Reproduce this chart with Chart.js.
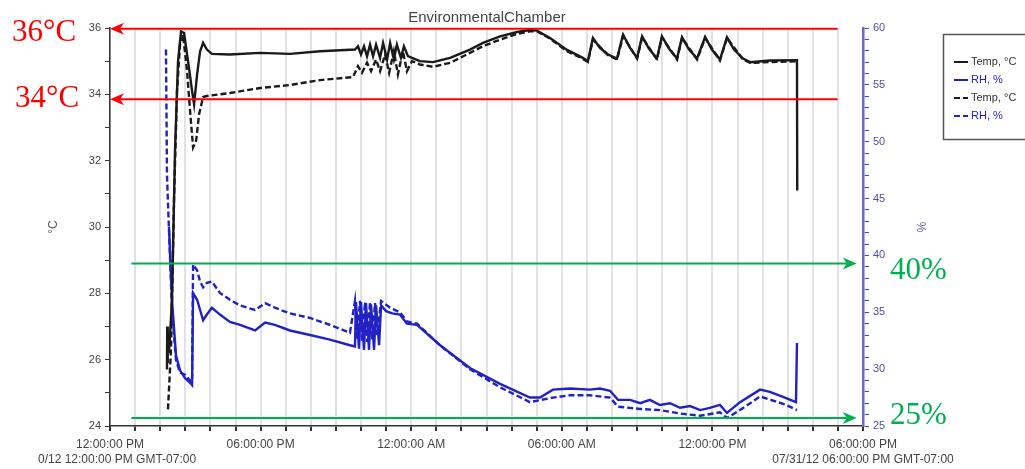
<!DOCTYPE html>
<html>
<head>
<meta charset="utf-8">
<script src="https://cdn.jsdelivr.net/npm/chart.js@4.4.1/dist/chart.umd.min.js"></script>
<style>
  html, body { margin: 0; padding: 0; background: #fff; }
</style>
</head>
<body>
<canvas id="chamberChart" width="1025" height="469"></canvas>
<script>
// x values are hours after 12:00:00 PM on the first day
const tempSolidHours = [2.27, 2.28, 2.29, 2.31, 2.35, 2.47, 2.59, 2.71, 2.83, 2.95, 3.11, 3.27, 3.35, 3.47, 3.59, 3.71, 3.86, 4.06, 4.78, 5.98, 7.17, 8.37, 9.76,
  9.88, 10.0, 10.12, 10.24, 10.36, 10.48, 10.6, 10.76, 10.88, 11.04, 11.16, 11.31, 11.43, 11.59, 11.71, 11.87, 12.03, 12.35, 12.87, 13.55, 14.34, 14.86,
  15.54, 16.22, 16.73, 17.01, 17.53, 18.21, 18.84, 19.04, 19.24, 19.52, 19.84, 20.2, 20.44, 20.72, 21.0, 21.2, 21.47, 21.79, 21.99, 22.27, 22.59, 22.79,
  23.07, 23.39, 23.71, 23.98, 24.3, 24.58, 24.86, 25.22, 25.5, 26.29, 27.37, 27.38];
const tempSolidValues = [25.7, 27.0, 25.9, 26.8, 26.2, 27.8, 32.3, 35.0, 35.9, 35.85, 35.0, 34.1, 33.7, 34.6, 35.3, 35.55, 35.35, 35.22, 35.2, 35.25, 35.22, 35.3, 35.35,
  35.45, 35.2, 35.45, 35.15, 35.5, 35.15, 35.5, 35.1, 35.55, 35.05, 35.55, 35.05, 35.5, 35.1, 35.45, 35.15, 35.1, 35.0, 34.97, 35.1, 35.35, 35.55,
  35.75, 35.88, 35.94, 35.92, 35.7, 35.34, 35.1, 35.0, 35.7, 35.4, 35.2, 35.08, 35.8, 35.4, 35.1, 35.75, 35.38, 35.08, 35.75, 35.38, 35.08, 35.72,
  35.35, 35.08, 35.73, 35.35, 35.05, 35.72, 35.35, 35.08, 34.97, 35.02, 35.03, 31.1];

const tempDashHours = [2.31, 2.43, 2.55, 2.67, 2.79, 2.91, 3.07, 3.19, 3.31, 3.43, 3.55, 3.71, 3.86, 4.78, 5.98, 7.17, 8.37, 9.68,
  9.88, 10.04, 10.24, 10.4, 10.6, 10.76, 10.96, 11.12, 11.31, 11.47, 11.67, 11.83, 12.03, 12.35, 12.87, 13.55, 14.34, 14.86, 15.54, 16.22,
  16.73, 17.01, 17.53, 18.21, 18.84, 19.04, 19.24, 19.84, 20.2, 20.44, 21.0, 21.2, 21.79, 21.99, 22.59, 22.79, 23.39, 23.71, 24.3, 24.58,
  25.22, 25.5, 27.37];
const tempDashValues = [24.5, 26.3, 30.8, 34.1, 35.5, 35.8, 34.7, 33.5, 32.4, 32.6, 33.4, 33.92, 33.95, 34.04, 34.19, 34.28, 34.43, 34.52,
  34.85, 34.65, 34.95, 34.7, 35.05, 34.7, 35.2, 34.65, 35.3, 34.6, 35.3, 34.7, 35.0, 34.9, 34.83, 34.95, 35.25, 35.45, 35.65, 35.82,
  35.9, 35.9, 35.68, 35.3, 35.07, 34.98, 35.65, 35.18, 35.05, 35.75, 35.08, 35.72, 35.05, 35.72, 35.05, 35.7, 35.05, 35.7, 35.02, 35.7,
  35.05, 34.95, 35.0];

const rhSolidHours = [2.35, 2.47, 2.63, 2.79, 2.99, 3.19, 3.27, 3.31, 3.47, 3.59, 3.71, 3.86, 4.06, 4.38, 4.78, 5.18, 5.78, 6.18, 6.57, 7.17, 7.97,
  8.76, 9.56, 9.76, 9.8, 9.92, 10.0, 10.12, 10.2, 10.32, 10.4, 10.52, 10.6, 10.72, 10.8, 11.0, 11.24, 11.55, 11.83, 12.23, 13.15, 14.34, 15.54,
  16.73, 17.13, 17.65, 18.33, 19.12, 19.52, 19.92, 20.24, 20.72, 21.12, 21.51, 21.91, 22.31, 22.71, 23.11, 23.51, 23.9, 24.3, 24.58, 25.1,
  25.9, 26.29, 26.89, 27.33, 27.37];
const rhSolidValues = [42.5, 36.1, 31.2, 29.9, 29.2, 28.8, 28.6, 36.7, 36.1, 35.2, 34.3, 34.8, 35.4, 34.8, 34.15, 33.9, 33.4, 34.1, 33.9, 33.4, 33.0,
  32.6, 32.1, 32.0, 35.9, 31.8, 35.9, 31.7, 35.8, 31.7, 35.7, 31.7, 35.6, 32.1, 35.6, 35.1, 34.9, 34.8, 34.0, 33.9, 32.1, 30.1, 28.7,
  27.5, 27.5, 28.2, 28.3, 28.2, 28.3, 28.1, 27.3, 27.3, 27.0, 27.3, 26.85, 27.0, 26.6, 26.75, 26.4, 26.6, 26.85, 26.15, 27.1,
  28.2, 28.0, 27.5, 27.1, 32.3];

const rhDashHours = [2.23, 2.27, 2.35, 2.47, 2.63, 2.79, 2.99, 3.19, 3.27, 3.31, 3.47, 3.59, 3.71, 3.86, 4.06, 4.38, 4.78, 5.18, 5.78, 6.18, 6.57,
  7.17, 7.97, 8.76, 9.56, 9.76, 9.84, 9.96, 10.04, 10.16, 10.24, 10.36, 10.44, 10.56, 10.64, 10.8, 11.16, 11.55, 11.83, 12.23, 13.15, 14.34,
  15.54, 16.73, 17.65, 18.33, 19.12, 19.92, 20.24, 21.12, 21.91, 22.71, 23.51, 24.3, 24.58, 25.1, 25.9, 26.89, 27.37];
const rhDashValues = [58.1, 47.1, 42.2, 35.2, 30.8, 29.7, 29.5, 29.0, 28.9, 39.2, 38.7, 37.7, 37.2, 37.6, 37.7, 36.7, 36.1, 35.6, 35.2, 35.8, 35.4,
  34.9, 34.5, 33.9, 33.2, 36.0, 32.6, 36.0, 32.5, 35.9, 32.4, 35.9, 32.6, 35.8, 33.0, 36.0, 35.4, 35.0, 34.2, 34.0, 32.1, 30.0,
  28.4, 27.1, 27.5, 27.7, 27.7, 27.5, 26.7, 26.5, 26.4, 26.1, 25.9, 26.2, 25.7, 26.4, 27.6, 26.9, 26.4];

const seriesLabels = ['Temp, °C', 'RH, %', 'Temp, °C', 'RH, %'];
const xTickLabels = ['12:00:00 PM', '06:00:00 PM', '12:00:00 AM', '06:00:00 AM', '12:00:00 PM', '06:00:00 PM'];
const dateLabels = ['0/12 12:00:00 PM GMT-07:00', '07/31/12 06:00:00 PM GMT-07:00'];

// hand-drawn marks on top of the plot
const tempArrowLevels = [35.98, 33.85];
const tempArrowText = ['36°C', '34°C'];
const rhArrowLevels = [39.3, 25.7];
const rhArrowText = ['40%', '25%'];

const BLACK = '#1a1a1a';
const BLUE = '#2222c4';
const AXIS_BLUE = '#6a6ad6';
const RED = '#ff0000';
const GREEN = '#00b050';

function pts(xs, ys) {
  return xs.map((x, i) => ({ x: x, y: ys[i] }));
}

function drawArrow(ctx, xFrom, xTo, y, color) {
  const dir = xTo > xFrom ? 1 : -1;
  ctx.save();
  ctx.strokeStyle = color;
  ctx.fillStyle = color;
  ctx.lineWidth = 2;
  ctx.beginPath();
  ctx.moveTo(xFrom, y);
  ctx.lineTo(xTo - dir * 10, y);
  ctx.stroke();
  ctx.beginPath();
  ctx.moveTo(xTo, y);
  ctx.lineTo(xTo - dir * 14, y - 6);
  ctx.lineTo(xTo - dir * 10, y);
  ctx.lineTo(xTo - dir * 14, y + 6);
  ctx.closePath();
  ctx.fill();
  ctx.restore();
}

const extras = {
  id: 'extras',
  afterDraw(chart) {
    const ctx = chart.ctx;
    const xs = chart.scales.x, yT = chart.scales.y, yR = chart.scales.y1;

    // date line under the time axis
    ctx.save();
    ctx.font = '12px "Liberation Sans", Arial, sans-serif';
    ctx.fillStyle = '#444';
    ctx.textBaseline = 'middle';
    ctx.textAlign = 'left';
    ctx.fillText(dateLabels[0], 38, 460);
    ctx.textAlign = 'center';
    ctx.fillText(dateLabels[1], xs.getPixelForValue(30), 460);
    ctx.restore();

    // legend box
    ctx.save();
    ctx.strokeStyle = '#555';
    ctx.lineWidth = 1.5;
    ctx.strokeRect(943.5, 34.5, 100, 105);
    ctx.font = '11px "Liberation Sans", Arial, sans-serif';
    ctx.textBaseline = 'middle';
    chart.data.datasets.forEach((ds, i) => {
      const y = 62 + i * 18;
      ctx.strokeStyle = ds.borderColor;
      ctx.lineWidth = 2;
      ctx.setLineDash(ds.borderDash || []);
      ctx.beginPath();
      ctx.moveTo(954, y);
      ctx.lineTo(968, y);
      ctx.stroke();
      ctx.setLineDash([]);
      ctx.fillStyle = ds.yAxisID === 'y' ? '#333' : BLUE;
      ctx.fillText(ds.label, 971, y);
    });
    ctx.restore();

    // red temperature marks
    ctx.save();
    ctx.font = '31px "Liberation Serif", "Times New Roman", serif';
    ctx.textBaseline = 'middle';
    tempArrowLevels.forEach((v, i) => {
      const y = yT.getPixelForValue(v);
      drawArrow(ctx, xs.getPixelForValue(28.99), xs.getPixelForValue(0), y, RED);
      ctx.fillStyle = RED;
      ctx.fillText(tempArrowText[i], 12 + i * 3, y + (i === 0 ? 4 : 0));
    });

    // green humidity marks
    rhArrowLevels.forEach((v, i) => {
      const y = yR.getPixelForValue(v);
      drawArrow(ctx, xs.getPixelForValue(0.85), xs.getPixelForValue(29.75), y, GREEN);
      ctx.fillStyle = GREEN;
      ctx.fillText(rhArrowText[i], 890, y + (i === 0 ? 7 : -2));
    });
    ctx.restore();
  }
};

Chart.defaults.font.family = '"Liberation Sans", Arial, sans-serif';

new Chart(document.getElementById('chamberChart'), {
  type: 'line',
  data: {
    datasets: [
      { label: seriesLabels[0], data: pts(tempSolidHours, tempSolidValues), borderColor: BLACK, yAxisID: 'y' },
      { label: seriesLabels[1], data: pts(rhSolidHours, rhSolidValues), borderColor: BLUE, yAxisID: 'y1' },
      { label: seriesLabels[2], data: pts(tempDashHours, tempDashValues), borderColor: BLACK, borderDash: [6, 3], yAxisID: 'y' },
      { label: seriesLabels[3], data: pts(rhDashHours, rhDashValues), borderColor: BLUE, borderDash: [6, 3], yAxisID: 'y1' }
    ]
  },
  options: {
    responsive: false,
    animation: false,
    layout: { padding: { left: 42, right: 93, top: 0, bottom: 0 } },
    elements: {
      point: { radius: 0 },
      line: { borderWidth: 2.4, tension: 0 }
    },
    plugins: {
      legend: { display: false },
      tooltip: { enabled: false },
      title: {
        display: true,
        text: 'EnvironmentalChamber',
        color: '#444',
        font: { size: 15, weight: 'normal' },
        padding: { top: 9, bottom: 1 }
      }
    },
    scales: {
      x: {
        type: 'linear',
        min: 0,
        max: 30,
        afterFit: s => { s.height = 43; },
        border: { color: '#333', width: 1.5 },
        grid: { color: '#e2e2e2', lineWidth: 2, tickColor: '#333', tickLength: 5 },
        ticks: {
          stepSize: 1,
          autoSkip: false,
          maxRotation: 0,
          padding: 6,
          color: '#444',
          font: { size: 12 },
          callback: v => (Math.round(v) % 6 === 0 ? xTickLabels[Math.round(v) / 6] : '')
        }
      },
      y: {
        position: 'left',
        min: 24,
        max: 36,
        afterFit: s => { s.width = 68; },
        border: { color: '#333', width: 1.5 },
        grid: { drawOnChartArea: false, tickColor: '#333', tickLength: 5 },
        ticks: {
          stepSize: 1,
          autoSkip: false,
          padding: 4,
          color: '#444',
          font: { size: 11 },
          callback: v => (v % 2 === 0 ? v : '')
        },
        title: { display: true, text: '°C', color: '#555', font: { size: 12 } }
      },
      y1: {
        position: 'right',
        min: 25,
        max: 60,
        afterFit: s => { s.width = 69; },
        border: { color: AXIS_BLUE, width: 2.5 },
        grid: { drawOnChartArea: false, tickColor: '#4a4ab8', tickLength: 6 },
        ticks: {
          stepSize: 1,
          autoSkip: false,
          padding: 4,
          color: '#5050a0',
          font: { size: 11 },
          callback: v => (v % 5 === 0 ? v : '')
        },
        title: { display: true, text: '%', color: '#6060a0', font: { size: 12 } }
      }
    }
  },
  plugins: [extras]
});
</script>
</body>
</html>
